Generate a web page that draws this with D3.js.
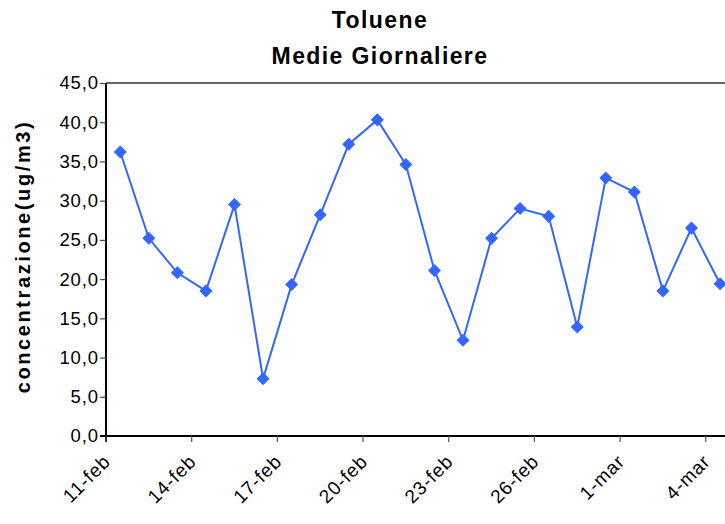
<!DOCTYPE html>
<html>
<head>
<meta charset="utf-8">
<script src="https://cdn.jsdelivr.net/npm/d3@7"></script>
<style>
  body { margin: 0; background: #fff; }
  svg { display: block; font-family: "Liberation Sans", Arial, sans-serif; }
</style>
</head>
<body>
<svg id="chart" width="725" height="524"></svg>
<script>
// daily categories and measured values
const days = ["11-feb","12-feb","13-feb","14-feb","15-feb","16-feb","17-feb","18-feb","19-feb","20-feb",
              "21-feb","22-feb","23-feb","24-feb","25-feb","26-feb","27-feb","28-feb","1-mar","2-mar","3-mar","4-mar"];
const values = [36.2, 25.2, 20.8, 18.5, 29.5, 7.3, 19.3, 28.2, 37.2, 40.3, 34.6,
                21.1, 12.2, 25.2, 29.0, 28.0, 13.9, 32.9, 31.1, 18.5, 26.5, 19.4];
const xTickLabels = ["11-feb","14-feb","17-feb","20-feb","23-feb","26-feb","1-mar","4-mar"];
const yTicks = [0, 5, 10, 15, 20, 25, 30, 35, 40, 45];
const titleLines = ["Toluene", "Medie Giornaliere"];
const yTitle = "concentrazione(ug/m3)";

const svg = d3.select("#chart");
const pLeft = 106, pTop = 83, pBottom = 436, dayW = 28.56;
const pRight = pLeft + days.length * dayW;   // runs past the window edge

const x = d3.scaleBand().domain(days).range([pLeft, pRight]).padding(0);
const y = d3.scaleLinear().domain([0, 45]).range([pBottom, pTop]);
const fmt = v => d3.format(".1f")(v).replace(".", ",");

// plot frame: top border
svg.append("line")
  .attr("x1", pLeft).attr("x2", pRight).attr("y1", pTop).attr("y2", pTop)
  .attr("stroke", "#333").attr("stroke-width", 1.5);

// y axis
const yAxis = svg.append("g").attr("transform", `translate(${pLeft},0)`)
  .call(d3.axisLeft(y).tickValues(yTicks).tickSize(6).tickFormat(fmt));
yAxis.select(".domain").attr("stroke", "#000").attr("stroke-width", 2)
  .attr("d", `M0,${pTop}V${pBottom + 6}`);
yAxis.selectAll(".tick line").attr("stroke", "#444").attr("stroke-width", 1.2);
yAxis.selectAll(".tick text").attr("x", -7).attr("font-size", 18.5).attr("letter-spacing", 0.9)
  .attr("fill", "#000").attr("font-family", "Liberation Sans, Arial, sans-serif");

// x axis
const xAxis = svg.append("g").attr("transform", `translate(0,${pBottom})`);
xAxis.append("line").attr("x1", pLeft - 6).attr("x2", pRight).attr("y1", 0).attr("y2", 0)
  .attr("stroke", "#000").attr("stroke-width", 2);
const xt = xAxis.selectAll("g.xt").data(xTickLabels).join("g")
  .attr("class", "xt").attr("transform", d => `translate(${x(d)},0)`);
xt.append("line").attr("y1", 0).attr("y2", 6).attr("stroke", "#555").attr("stroke-width", 1.2);
xt.append("text")
  .attr("transform", "translate(1,22) rotate(-45)")
  .attr("text-anchor", "end").attr("dy", "0.35em")
  .attr("font-size", 19).attr("letter-spacing", 0.9)
  .text(d => d);

// series
const line = d3.line().x((d, i) => x(days[i]) + x.bandwidth() / 2).y(d => y(d));
svg.append("path").datum(values)
  .attr("d", line).attr("fill", "none")
  .attr("stroke", "#3366FF").attr("stroke-width", 2);
svg.selectAll("path.mk").data(values).join("path")
  .attr("class", "mk")
  .attr("d", d3.symbol(d3.symbolSquare, 85)())
  .attr("transform", (d, i) => `translate(${x(days[i]) + x.bandwidth() / 2},${y(d)}) rotate(45)`)
  .attr("fill", "#3366FF");

// titles
svg.selectAll("text.title").data(titleLines).join("text")
  .attr("class", "title")
  .attr("x", 380).attr("y", (d, i) => 28 + i * 36)
  .attr("text-anchor", "middle")
  .attr("font-size", 23).attr("font-weight", "bold").attr("letter-spacing", 1.4)
  .text(d => d);

svg.append("text")
  .attr("transform", `translate(30,${(pTop + pBottom) / 2 - 3}) rotate(-90)`)
  .attr("text-anchor", "middle")
  .attr("font-size", 20).attr("font-weight", "bold").attr("letter-spacing", 2.6)
  .text(yTitle);
</script>
</body>
</html>
